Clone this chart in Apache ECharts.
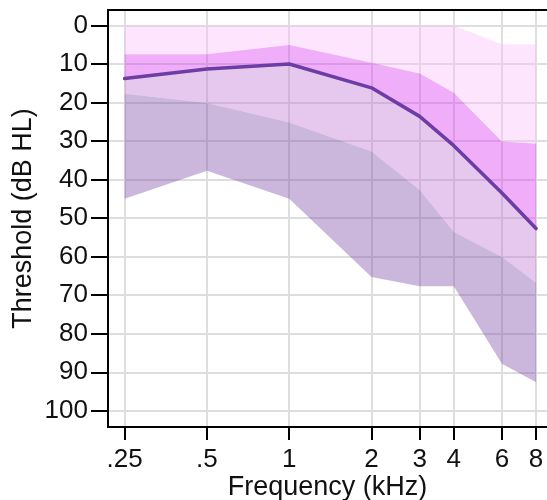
<!DOCTYPE html>
<html>
<head>
<meta charset="utf-8">
<script src="https://cdn.jsdelivr.net/npm/echarts@6/dist/echarts.min.js"></script>
<style>
  html, body { margin: 0; padding: 0; background: #fff; }
  #chart { width: 547px; height: 500px; }
</style>
</head>
<body>
<div id="chart"></div>
<script>
// frequencies (kHz) and tick labels
var freqs = [0.25, 0.5, 1, 2, 3, 4, 6, 8];
var freqLabels = ['.25', '.5', '1', '2', '3', '4', '6', '8'];
var yTicks = [0, 10, 20, 30, 40, 50, 60, 70, 80, 90, 100];

// band edges (dB HL)
var lightTop = [0, 0, 0, 0, 0, 0, 4.9, 4.9];
var pinkTop = [7.5, 7.5, 5.1, 9.7, 12.5, 17.5, 30.1, 30.7];
var median = [13.8, 11.3, 10.0, 16.2, 23.6, 31.2, 43.5, 52.7];
var darkTop = [17.7, 20.1, 25.2, 32.7, 42.7, 53.6, 60.1, 66.8];
var darkBottom = [45, 37.7, 45, 65.3, 67.7, 67.7, 87.8, 92.6];

// x axis is log2 of frequency
var xs = freqs.map(function (f) { return Math.log2(f); });

function pts(arr) {
    return arr.map(function (v, i) { return [xs[i], v]; });
}

// a filled band between two edges, drawn as one polygon
function band(name, lo, hi, color) {
    return {
        name: name, type: 'custom', silent: true, clip: true,
        data: [[xs[0], lo[0]]],
        encode: { x: 0, y: 1 },
        renderItem: function (params, api) {
            var upper = lo.map(function (v, i) { return api.coord([xs[i], v]); });
            var lower = hi.map(function (v, i) { return api.coord([xs[i], v]); }).reverse();
            return {
                type: 'polygon',
                shape: { points: upper.concat(lower) },
                style: { fill: color }
            };
        }
    };
}

var series = [
    band('light', lightTop, pinkTop, 'rgba(250,192,250,0.4)'),
    band('pink', pinkTop, median, 'rgba(215,50,242,0.4)'),
    band('lpurple', median, darkTop, 'rgba(192,117,212,0.4)'),
    band('dpurple', darkTop, darkBottom, 'rgba(125,75,167,0.4)'),
    {
        name: 'median', type: 'line', data: pts(median), symbol: 'none',
        lineStyle: { color: '#6c3ea3', width: 3.5, cap: 'round', join: 'round' },
        z: 5
    }
];

var option = {
    animation: false,
    grid: { left: 108, right: 0, top: 10, bottom: 73, outerBoundsMode: 'none' },
    xAxis: [
        {
            type: 'value',
            min: Math.log2(0.2173),
            max: Math.log2(8.77),
            name: 'Frequency (kHz)',
            nameLocation: 'middle',
            nameGap: 47,
            nameMoveOverlap: false,
            nameTextStyle: { fontFamily: 'Liberation Sans', fontSize: 27, color: '#111' },
            axisLine: { onZero: false, lineStyle: { color: '#000', width: 2 } },
            axisTick: { customValues: xs, length: 13, lineStyle: { color: '#000', width: 2 } },
            axisLabel: {
                customValues: xs, margin: 20,
                fontFamily: 'Liberation Sans', fontSize: 26, color: '#111',
                formatter: function (v) {
                    var best = 0;
                    xs.forEach(function (x, i) { if (Math.abs(x - v) < Math.abs(xs[best] - v)) best = i; });
                    return freqLabels[best];
                }
            },
            splitLine: { show: true, lineStyle: { color: '#dedede', width: 2 } }
        },
        {
            type: 'value', position: 'top',
            min: 0, max: 1,
            axisLine: { show: true, onZero: false, lineStyle: { color: '#000', width: 2 } },
            axisTick: { show: false }, axisLabel: { show: false }, splitLine: { show: false }
        }
    ],
    yAxis: {
        type: 'value',
        inverse: true,
        min: -4,
        max: 104.2,
        name: 'Threshold (dB HL)',
        nameLocation: 'middle',
        nameGap: 71,
        nameMoveOverlap: false,
        nameTextStyle: { fontFamily: 'Liberation Sans', fontSize: 27, color: '#111' },
        axisLine: { show: true, onZero: false, lineStyle: { color: '#000', width: 2 } },
        axisTick: { show: true, customValues: yTicks, length: 17, lineStyle: { color: '#000', width: 2 } },
        axisLabel: { customValues: yTicks, margin: 20, fontFamily: 'Liberation Sans', fontSize: 26, color: '#111' },
        splitLine: { show: true, lineStyle: { color: '#dedede', width: 2 } }
    },
    series: series
};

var myChart = echarts.init(document.getElementById('chart'));
myChart.setOption(option);
</script>
</body>
</html>
